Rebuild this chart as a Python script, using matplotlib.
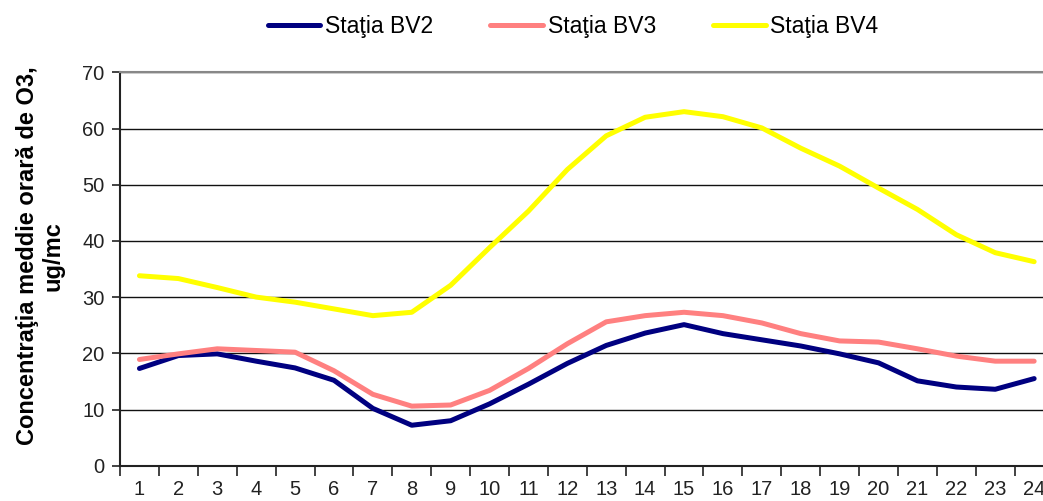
import matplotlib
matplotlib.use("Agg")
import matplotlib.pyplot as plt
from matplotlib.ticker import FixedLocator, NullFormatter

plt.rcParams['font.family'] = ['Liberation Sans', 'DejaVu Sans']

hours = list(range(1, 25))
bv2 = [17.3, 19.6, 19.9, 18.6, 17.4, 15.2, 10.2, 7.2, 8.0, 11.0, 14.5, 18.2,
       21.4, 23.6, 25.1, 23.5, 22.4, 21.3, 19.9, 18.3, 15.1, 14.0, 13.6, 15.5]
bv3 = [18.9, 19.9, 20.8, 20.5, 20.2, 16.9, 12.7, 10.6, 10.8, 13.4, 17.3, 21.7,
       25.6, 26.7, 27.3, 26.7, 25.4, 23.5, 22.2, 22.0, 20.8, 19.5, 18.6, 18.6]
bv4 = [33.8, 33.3, 31.7, 30.0, 29.1, 27.9, 26.7, 27.3, 32.1, 38.8, 45.3, 52.7,
       58.7, 62.0, 63.0, 62.1, 60.1, 56.5, 53.3, 49.4, 45.6, 41.1, 37.9, 36.3]
series_labels = ['Staţia BV2', 'Staţia BV3', 'Staţia BV4']
colors = ['#000080', '#FF8080', '#FFFF00']
y_ticks = [0, 10, 20, 30, 40, 50, 60, 70]
ylabel = 'Concentraţia meddie orară de O3,\nug/mc'

fig = plt.figure(figsize=(10.43, 5.01), dpi=100)
ax = fig.add_axes([120/1043, 1-465.7/501, (1053.6-120)/1043, (465.7-72.3)/501])

for vals, lab, col in zip([bv2, bv3, bv4], series_labels, colors):
    ax.plot(hours, vals, color=col, lw=3.6, label=lab, solid_capstyle='round',
            solid_joinstyle='round', zorder=3)

ax.set_xlim(0.5, 24.5)
ax.set_ylim(0, 70)
ax.set_yticks(y_ticks)
ax.set_yticklabels([str(v) for v in y_ticks])
ax.yaxis.grid(True, color='#111111', lw=1.0)
ax.set_axisbelow(True)

ax.xaxis.set_major_locator(FixedLocator([h - 0.5 for h in hours] + [24.5]))
ax.xaxis.set_major_formatter(NullFormatter())
ax.xaxis.set_minor_locator(FixedLocator(hours))
ax.set_xticklabels([str(h) for h in hours], minor=True)
ax.tick_params(axis='x', which='major', direction='out', length=7, width=1.2, color='#222222')
ax.tick_params(axis='x', which='minor', length=0, pad=10, labelsize=14.5, labelcolor='#222222')
ax.tick_params(axis='y', direction='out', length=6, width=1.2, color='#222222',
               labelsize=14.5, labelcolor='#222222', pad=5)

for s in ['left', 'bottom']:
    ax.spines[s].set_color('#222222')
    ax.spines[s].set_linewidth(1.5)
ax.spines['top'].set_color('#888888')
ax.spines['top'].set_linewidth(1.5)
ax.spines['right'].set_visible(False)

fig.text(40/1043, 1-(62+450)/2/501, ylabel, rotation=90, ha='center', va='center',
         fontsize=17, fontweight='bold', linespacing=1.15)

fig.legend(loc='center', bbox_to_anchor=(573/1043, 1-27/501), ncol=3, frameon=False,
           fontsize=16.5, handlelength=2.3, handletextpad=0.2, columnspacing=2.5)

fig.savefig('out.png', dpi=100)
